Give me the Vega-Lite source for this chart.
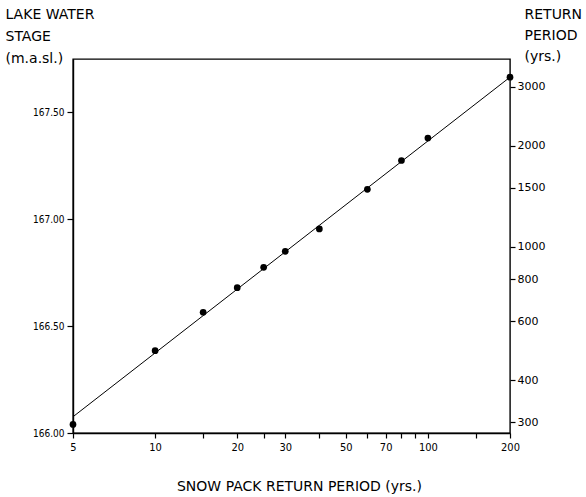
{
  "$schema": "https://vega.github.io/schema/vega-lite/v6.json",
  "autosize": "none",
  "width": 437,
  "height": 374,
  "padding": {"left": 73, "top": 59, "right": 76, "bottom": 64},
  "background": "white",
  "config": {
    "view": {"stroke": "black", "strokeWidth": 1.4},
    "font": "DejaVu Sans",
    "axis": {
      "grid": false,
      "domainColor": "black",
      "domainWidth": 1.4,
      "tickColor": "black",
      "tickWidth": 1.2,
      "labelColor": "black",
      "titleColor": "black",
      "labelFont": "DejaVu Sans Condensed",
      "titleFont": "DejaVu Sans",
      "titleFontWeight": "normal"
    }
  },
  "datasets": {
    "obs": [
      {"snow": 5, "stage": 166.04},
      {"snow": 10, "stage": 166.385},
      {"snow": 15, "stage": 166.565},
      {"snow": 20, "stage": 166.68},
      {"snow": 25, "stage": 166.775},
      {"snow": 30, "stage": 166.85},
      {"snow": 40, "stage": 166.955},
      {"snow": 60, "stage": 167.14},
      {"snow": 80, "stage": 167.275},
      {"snow": 100, "stage": 167.38},
      {"snow": 200, "stage": 167.665}
    ],
    "fit": [
      {"snow": 5, "stage": 166.076},
      {"snow": 200, "stage": 167.665}
    ],
    "rp": [
      {"period": 300}, {"period": 400}, {"period": 600}, {"period": 800},
      {"period": 1000}, {"period": 1500}, {"period": 2000}, {"period": 3000}
    ]
  },
  "layer": [
    {
      "encoding": {
        "x": {
          "field": "snow",
          "type": "quantitative",
          "scale": {"type": "log", "domain": [5, 200], "nice": false},
          "axis": {
            "values": [5, 10, 15, 20, 25, 30, 40, 50, 60, 70, 80, 90, 100, 150, 200],
            "labelExpr": "indexof([5,10,20,30,50,70,100,200], datum.value) >= 0 ? format(datum.value, 'd') : ''",
            "labelOverlap": false,
            "labelFlush": false,
            "labelFontSize": 11,
            "labelPadding": 3,
            "tickSize": 5,
            "title": "SNOW PACK RETURN PERIOD (yrs.)",
            "titleFontSize": 14,
            "titleBaseline": "alphabetic",
            "titleY": 57,
            "titleX": 226
          }
        },
        "y": {
          "field": "stage",
          "type": "quantitative",
          "scale": {"domain": [166.0, 167.75], "nice": false, "zero": false},
          "axis": {
            "values": [166.0, 166.5, 167.0, 167.5],
            "format": ".2f",
            "labelFontSize": 10,
            "labelPadding": 3,
            "tickSize": 6,
            "title": ["LAKE WATER", "STAGE", "(m.a.sl.)"],
            "titleFontSize": 14,
            "titleAngle": 0,
            "titleAlign": "left",
            "titleBaseline": "alphabetic",
            "titleLineHeight": 22,
            "titleX": -68,
            "titleY": -41
          }
        }
      },
      "layer": [
        {
          "data": {"name": "fit"},
          "mark": {"type": "line", "color": "black", "strokeWidth": 1}
        },
        {
          "data": {"name": "obs"},
          "mark": {"type": "point", "filled": true, "color": "black", "size": 45, "opacity": 1}
        }
      ]
    },
    {
      "data": {"name": "rp"},
      "mark": {"type": "rule", "opacity": 0},
      "encoding": {
        "y": {
          "field": "period",
          "type": "quantitative",
          "scale": {"type": "log", "domain": [278.7, 3626], "nice": false},
          "axis": {
            "orient": "right",
            "values": [300, 400, 600, 800, 1000, 1500, 2000, 3000],
            "format": "d",
            "labelFont": "DejaVu Sans",
            "labelFontSize": 11,
            "labelPadding": 2,
            "tickSize": 5,
            "domain": false,
            "title": ["RETURN", "PERIOD", "(yrs.)"],
            "titleFontSize": 14,
            "titleAngle": 0,
            "titleAlign": "left",
            "titleBaseline": "alphabetic",
            "titleLineHeight": 21,
            "titleX": 14,
            "titleY": -41
          }
        }
      }
    }
  ],
  "resolve": {"scale": {"y": "independent"}}
}
